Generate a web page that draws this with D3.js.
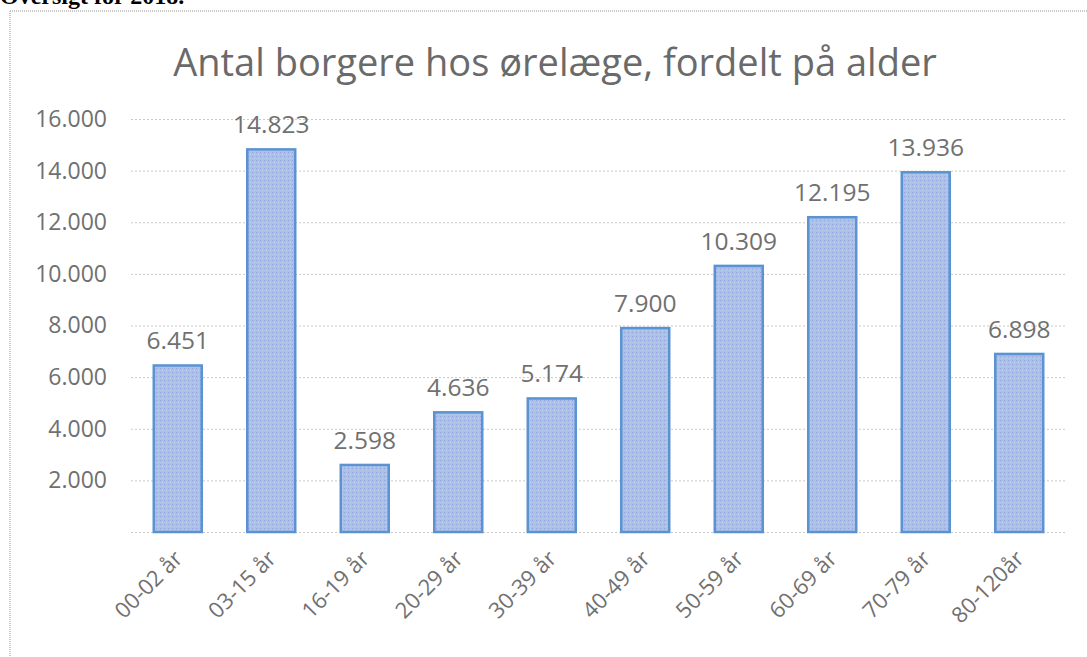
<!DOCTYPE html>
<html>
<head>
<meta charset="utf-8">
<script src="https://cdn.jsdelivr.net/npm/d3@7"></script>
<style>
  body{margin:0;background:#fff;overflow:hidden;}
  svg{display:block;}
</style>
</head>
<body>
<div id="chart"></div>
<script>
// data
const ageGroups = ["00-02 år","03-15 år","16-19 år","20-29 år","30-39 år","40-49 år","50-59 år","60-69 år","70-79 år","80-120år"];
const citizens = [6451,14823,2598,4636,5174,7900,10309,12195,13936,6898];
const yTicks = [0,2000,4000,6000,8000,10000,12000,14000,16000];

const w = 1087, h = 657;
const plotLeft = 131, plotRight = 1066, plotTop = 119, plotBottom = 532;
const fmt = d3.formatLocale({decimal:",",thousands:".",grouping:[3]}).format(",d");

const svg = d3.select("#chart").append("svg")
    .attr("width",w)
    .attr("height",h);

// pattern for the bars (dotted look)
const pat = svg.append("defs").append("pattern")
    .attr("id","dots")
    .attr("width",4).attr("height",4)
    .attr("patternUnits","userSpaceOnUse");
pat.append("rect").attr("width",4).attr("height",4).attr("fill","#a8c2e9");
pat.append("rect").attr("x",0).attr("y",0).attr("width",1).attr("height",1).attr("fill","#9a9fdc");
pat.append("rect").attr("x",2).attr("y",2).attr("width",1).attr("height",1).attr("fill","#bcd3f0");

// heading above the chart (cut off at top)
svg.append("text")
    .attr("x",0).attr("y",4)
    .style("font-family","'Liberation Serif', serif")
    .style("font-weight","bold")
    .style("font-size","24px")
    .attr("fill","#000")
    .text("Oversigt for 2018.");

// chart frame
svg.append("line")
    .attr("x1",10).attr("y1",11).attr("x2",w).attr("y2",11)
    .attr("stroke","#c9c9c9").attr("stroke-width",2).attr("stroke-dasharray","1,1");
svg.append("line")
    .attr("x1",10).attr("y1",11).attr("x2",10).attr("y2",h)
    .attr("stroke","#c9c9c9").attr("stroke-width",2).attr("stroke-dasharray","1,1");

// title
svg.append("text")
    .attr("x",555).attr("y",76)
    .attr("text-anchor","middle")
    .style("font-family","'Open Sans', sans-serif")
    .style("font-size","38px")
    .attr("fill","#6a6a6a")
    .text("Antal borgere hos ørelæge, fordelt på alder");

const xScale = d3.scaleBand()
    .domain(ageGroups)
    .range([plotLeft,plotRight])
    .paddingInner(0.487)
    .paddingOuter(0.2435);

const yScale = d3.scaleLinear()
    .domain([0,16000])
    .range([plotBottom,plotTop]);

// gridlines
const yAxis = d3.axisLeft(yScale)
    .tickValues(yTicks)
    .tickSize(-(plotRight-plotLeft))
    .tickPadding(24)
    .tickFormat(d => d === 0 ? "" : fmt(d));

const gy = svg.append("g")
    .attr("transform","translate("+plotLeft+",0)")
    .call(yAxis);
gy.select(".domain").remove();
gy.selectAll(".tick line")
    .attr("stroke","#c8c8c8")
    .attr("stroke-dasharray","2,2");
gy.selectAll(".tick text")
    .attr("fill","#707070")
    .style("font-family","'Open Sans', sans-serif")
    .style("font-size","23px");

// bars
svg.selectAll("rect.bar")
    .data(citizens)
    .enter()
    .append("rect")
    .attr("class","bar")
    .attr("x",(d,i)=>xScale(ageGroups[i]))
    .attr("y",d=>yScale(d))
    .attr("width",xScale.bandwidth())
    .attr("height",d=>plotBottom-yScale(d))
    .attr("fill","url(#dots)")
    .attr("stroke","#5a92d2")
    .attr("stroke-width",2.5);

// value labels
svg.selectAll("text.val")
    .data(citizens)
    .enter()
    .append("text")
    .attr("class","val")
    .attr("x",(d,i)=>xScale(ageGroups[i])+xScale.bandwidth()/2)
    .attr("y",d=>yScale(d)-16)
    .attr("text-anchor","middle")
    .style("font-family","'Open Sans', sans-serif")
    .style("font-size","24.5px")
    .attr("fill","#707070")
    .text(d=>fmt(d));

// x labels, rotated
const xAxis = d3.axisBottom(xScale).tickSize(0).tickPadding(0);
const gx = svg.append("g")
    .attr("transform","translate(0,"+plotBottom+")")
    .call(xAxis);
gx.select(".domain").remove();
gx.selectAll(".tick text")
    .attr("text-anchor","end")
    .attr("dy",0)
    .attr("transform","translate(6,28) rotate(-45)")
    .attr("fill","#707070")
    .style("font-family","'Open Sans', sans-serif")
    .style("font-size","22px");
</script>
</body>
</html>
